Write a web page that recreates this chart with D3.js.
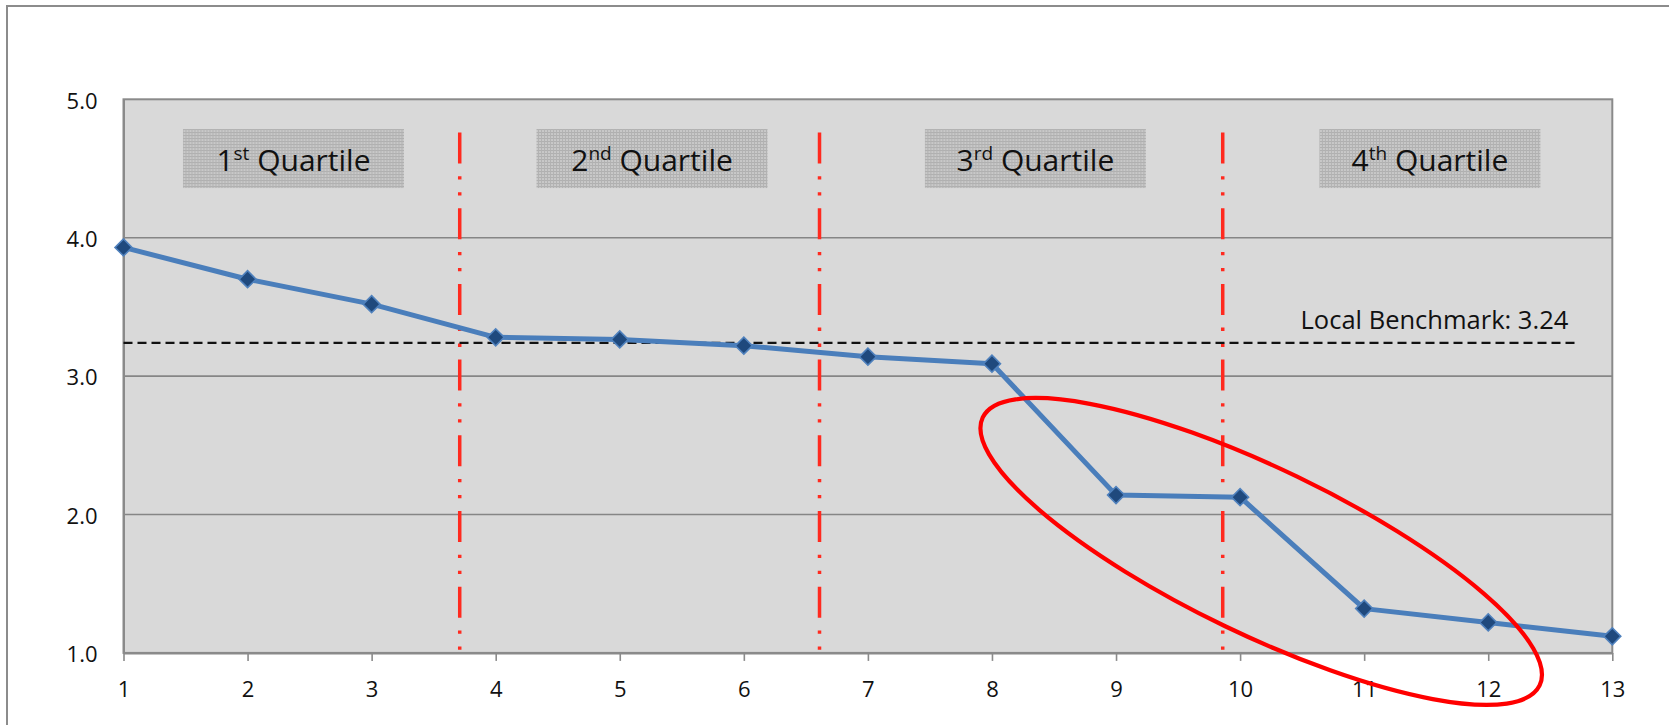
<!DOCTYPE html>
<html>
<head>
<meta charset="utf-8">
<script src="https://cdn.jsdelivr.net/npm/d3@7/dist/d3.min.js"></script>
<style>
  html, body { margin: 0; padding: 0; background: #ffffff; }
  svg { display: block; font-family: "Open Sans", "Noto Sans", sans-serif; }
</style>
</head>
<body>
<svg id="chart" width="1669" height="725"></svg>
<script>
// Scores by rank, 1 (best) to 13
const ranks = [1, 2, 3, 4, 5, 6, 7, 8, 9, 10, 11, 12, 13];
const scores = [3.93, 3.70, 3.52, 3.28, 3.265, 3.22, 3.14, 3.09, 2.14, 2.125, 1.32, 1.22, 1.12];

const yTicks = [1, 2, 3, 4, 5];
const xTicks = ranks;

// Quartile boundaries on the rank axis
const quartileBreaks = [3.71, 6.61, 9.86];
const quartileOrdinals = ["1", "2", "3", "4"];
const quartileSuffixes = ["st", "nd", "rd", "th"];
const quartileCenters = [2.37, 5.26, 8.35, 11.53];

// Local benchmark
const benchmarkValue = 3.24;
const benchmarkEnd = 12.71;

// Highlighted group (ranks 9–12), ellipse centre in data units
const highlightCenter = [10.17, 1.733];

const svg = d3.select("#chart");
const W = 1669, H = 725;
const plot = { left: 123.5, top: 99.3, right: 1612.3, bottom: 652.9 };

const x = d3.scaleLinear().domain([1, 13]).range([plot.left, plot.right]);
const y = d3.scaleLinear().domain([1, 5]).range([plot.bottom, plot.top]);

// Outer chart frame (open to the right and bottom)
svg.append("rect")
  .attr("x", 7).attr("y", 6)
  .attr("width", W + 20).attr("height", H + 20)
  .attr("fill", "#ffffff")
  .attr("stroke", "#8c8c8c").attr("stroke-width", 2);

// Textured fill for the quartile labels
const defs = svg.append("defs");
const pat = defs.append("pattern")
  .attr("id", "dots").attr("patternUnits", "userSpaceOnUse")
  .attr("width", 3).attr("height", 3);
pat.append("rect").attr("width", 3).attr("height", 3).attr("fill", "#c9c9c9");
pat.append("rect").attr("width", 3).attr("height", 1).attr("fill", "#aeaeae");
pat.append("rect").attr("width", 1).attr("height", 3).attr("fill", "#b2b2b2");

// Plot area
svg.append("rect")
  .attr("x", plot.left).attr("y", plot.top)
  .attr("width", plot.right - plot.left).attr("height", plot.bottom - plot.top)
  .attr("fill", "#d9d9d9")
  .attr("stroke", "#8a8a8a").attr("stroke-width", 2);

// Horizontal gridlines
svg.append("g")
  .selectAll("line")
  .data(yTicks.filter(d => d > 1 && d < 5))
  .join("line")
  .attr("x1", plot.left).attr("x2", plot.right)
  .attr("y1", d => y(d)).attr("y2", d => y(d))
  .attr("stroke", "#868686").attr("stroke-width", 1.6);

// Y axis labels
const yAxis = d3.axisLeft(y).tickValues(yTicks).tickFormat(d3.format(".1f")).tickSize(0).tickPadding(26);
svg.append("g")
  .attr("transform", `translate(${plot.left},0)`)
  .call(yAxis)
  .call(g => g.select(".domain").attr("stroke", "#8a8a8a").attr("stroke-width", 2))
  .call(g => g.selectAll("text").attr("font-size", 22).attr("fill", "#111").attr("font-family", "Open Sans").attr("dy", "0.4em"));

// X axis
const xAxis = d3.axisBottom(x).tickValues(xTicks).tickFormat(d3.format("d")).tickSize(8).tickSizeOuter(0).tickPadding(20);
svg.append("g")
  .attr("transform", `translate(0,${plot.bottom})`)
  .call(xAxis)
  .call(g => g.select(".domain").attr("stroke", "#8a8a8a").attr("stroke-width", 2))
  .call(g => g.selectAll(".tick line").attr("stroke", "#8a8a8a").attr("stroke-width", 1.6))
  .call(g => g.selectAll("text").attr("font-size", 22).attr("fill", "#111").attr("font-family", "Open Sans"));

// Quartile separators (dash-dot-dot)
svg.append("g")
  .selectAll("line")
  .data(quartileBreaks)
  .join("line")
  .attr("x1", d => x(d)).attr("x2", d => x(d))
  .attr("y1", y(4.76)).attr("y2", plot.bottom)
  .attr("stroke", "#ff2a1f").attr("stroke-width", 3.5)
  .attr("stroke-dasharray", "31 12.7 3.3 12.7 3.3 12.7");

// Quartile label boxes
const boxW = [221, 231, 221, 221];
const boxH = 59;
const qg = svg.append("g")
  .selectAll("g")
  .data(quartileCenters.map((c, i) => ({ c, i })))
  .join("g")
  .attr("transform", d => `translate(${x(d.c)},${y(4.785)})`);
qg.append("rect")
  .attr("x", d => -boxW[d.i] / 2).attr("y", 0)
  .attr("width", d => boxW[d.i]).attr("height", boxH)
  .attr("fill", "url(#dots)");
const qt = qg.append("text")
  .attr("x", 0).attr("y", 42)
  .attr("text-anchor", "middle")
  .attr("font-size", 30).attr("fill", "#111");
qt.append("tspan").text(d => quartileOrdinals[d.i]);
qt.append("tspan").attr("font-size", 19).attr("dy", -11).text(d => quartileSuffixes[d.i]);
qt.append("tspan").attr("dy", 11).text(" Quartile");

// Benchmark line and label
svg.append("line")
  .attr("x1", x(1)).attr("x2", x(benchmarkEnd))
  .attr("y1", y(benchmarkValue)).attr("y2", y(benchmarkValue))
  .attr("stroke", "#111").attr("stroke-width", 2.2)
  .attr("stroke-dasharray", "9 5");
svg.append("text")
  .attr("x", x(benchmarkEnd) - 8).attr("y", y(benchmarkValue) - 14)
  .attr("text-anchor", "end")
  .attr("font-size", 25.5).attr("fill", "#111")
  .text(`Local Benchmark: ${benchmarkValue.toFixed(2)}`);

// Score line
const pts = ranks.map((r, i) => [r, scores[i]]);
svg.append("path")
  .datum(pts)
  .attr("fill", "none")
  .attr("stroke", "#4a7ebb").attr("stroke-width", 5)
  .attr("stroke-linejoin", "round")
  .attr("d", d3.line().x(d => x(d[0])).y(d => y(d[1])));

// Diamond markers
svg.append("g")
  .selectAll("path")
  .data(pts)
  .join("path")
  .attr("transform", d => `translate(${x(d[0])},${y(d[1])}) rotate(45)`)
  .attr("d", "M-6,-6H6V6H-6Z")
  .attr("fill", "#1f497d")
  .attr("stroke", "#4f81bd").attr("stroke-width", 1.6);

// Highlight ellipse around the sharp drop
svg.append("ellipse")
  .attr("cx", 0).attr("cy", 0)
  .attr("rx", 309).attr("ry", 83)
  .attr("transform", `translate(${x(highlightCenter[0])},${y(highlightCenter[1])}) rotate(25.7)`)
  .attr("fill", "none")
  .attr("stroke", "#ff0000").attr("stroke-width", 4.2);
</script>
</body>
</html>
